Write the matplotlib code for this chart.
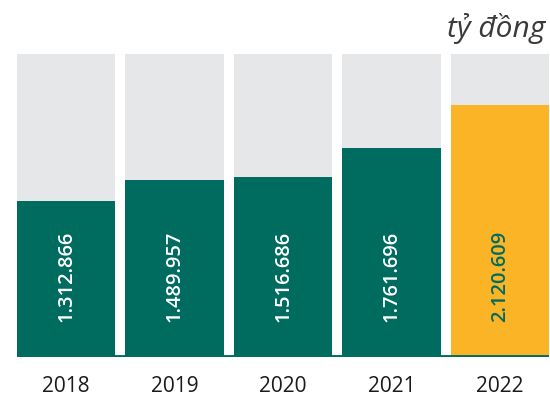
import matplotlib.pyplot as plt

# Values in billion VND (ty dong)
years = ['2018', '2019', '2020', '2021', '2022']
values = [1312866, 1489957, 1516686, 1761696, 2120609]
labels = ['1.312.866', '1.489.957', '1.516.686', '1.761.696', '2.120.609']
ymax = 2550000

green = '#006b5f'
yellow = '#fbb426'
grey = '#e6e7e9'

plt.rcParams['font.family'] = ['Open Sans', 'DejaVu Sans']

fig = plt.figure(figsize=(5.5, 4.01), dpi=100)
ax = fig.add_axes([17 / 550, (401 - 357) / 401, 532 / 550, (357 - 54) / 401])

w = 98 / 108
x = range(len(years))
colors = [green] * 4 + [yellow]

ax.bar(x, [ymax] * len(years), width=w, color=grey, zorder=1)
ax.bar(x, values, width=w, color=colors, zorder=2)

for i, lab in enumerate(labels):
    tc = green if i == len(labels) - 1 else 'white'
    ax.text(i, 680000, lab, rotation=90, ha='center', va='center',
            color=tc, fontsize=14.5, fontweight='semibold', zorder=3)

ax.axhline(0, color=green, lw=3.5, zorder=4)

ax.set_xlim(-w / 2, len(years) - 1 + w / 2)
ax.set_ylim(0, ymax)
ax.set_xticks(list(x))
ax.set_xticklabels(years, fontsize=15, color='#1a1a1a')
ax.tick_params(axis='x', length=0, pad=14)
ax.set_yticks([])
for s in ax.spines.values():
    s.set_visible(False)

fig.text(545 / 550, 1 - 28 / 401, 'tỷ đồng', ha='right', va='center',
         fontsize=21.5, style='italic', color='#3a3a3a')

fig.savefig('out.png', dpi=100)
